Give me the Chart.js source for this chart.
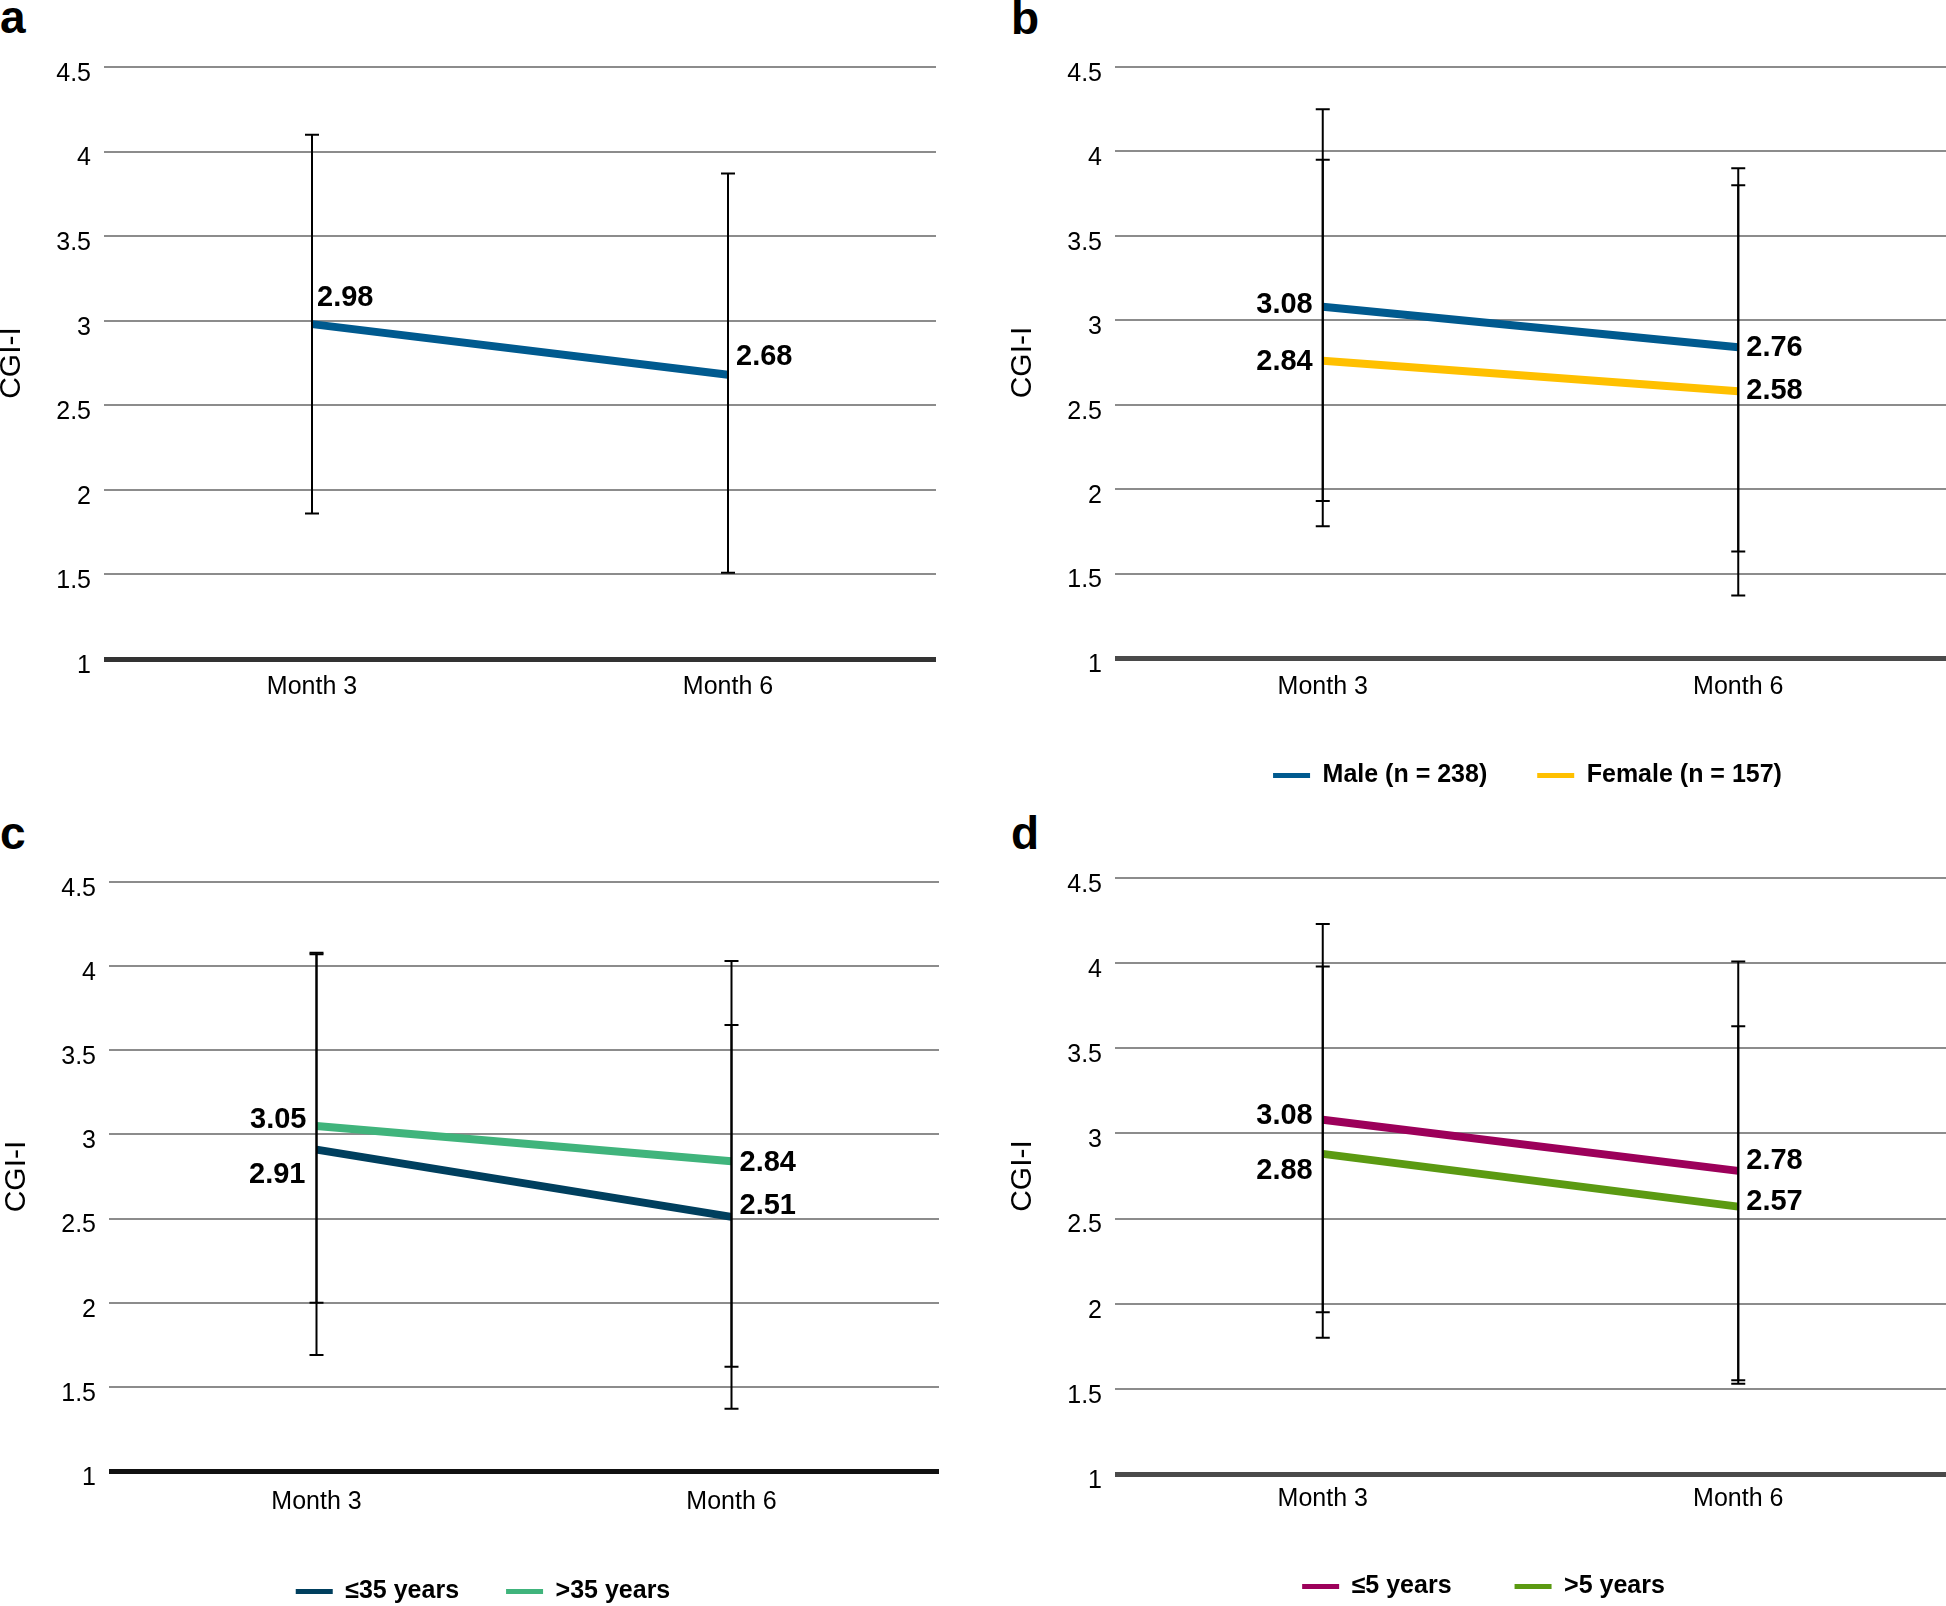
<!DOCTYPE html>
<html>
<head>
<meta charset="utf-8">
<script src="https://cdn.jsdelivr.net/npm/chart.js@4"></script>
<style>
    body { margin: 0; background: #fff; width: 1946px; height: 1606px; position: relative; overflow: hidden; font-family: "Liberation Sans", Arial, sans-serif; }
    .box { position: absolute; }
    .letter { position: absolute; font-weight: bold; font-size: 46px; line-height: 1; color: #000; }
</style>
</head>
<body>
<div class="letter" style="left:0;top:-6px">a</div>
<div class="letter" style="left:1011px;top:-5px">b</div>
<div class="letter" style="left:0;top:810px">c</div>
<div class="letter" style="left:1011px;top:810px">d</div>

<div class="box" style="left:0;top:0;width:936px;height:720px"><canvas id="chartA"></canvas></div>
<div class="box" style="left:1011px;top:0;width:935px;height:800px"><canvas id="chartB"></canvas></div>
<div class="box" style="left:5px;top:800px;width:934px;height:814px"><canvas id="chartC"></canvas></div>
<div class="box" style="left:1011px;top:800px;width:935px;height:809px"><canvas id="chartD"></canvas></div>

<script>
// 橫軸類別
const months = ['Month 3', 'Month 6'];

// a 全體
const allMean = [2.98, 2.68];
const allHigh = [4.10, 3.87];
const allLow = [1.86, 1.51];
const allText = ['2.98', '2.68'];

// b 性別
const maleMean = [3.08, 2.84];
const maleHigh = [4.25, 3.90];
const maleLow = [1.93, 1.63];
const maleText = ['3.08', '2.76'];
const femaleMean = [2.76, 2.58];
const femaleHigh = [3.95, 3.80];
const femaleLow = [1.78, 1.37];
const femaleText = ['2.84', '2.58'];

// c 年齡
const youngMean = [2.91, 2.51];
const youngHigh = [4.08, 3.65];
const youngLow = [1.69, 1.37];
const youngText = ['2.91', '2.51'];
const olderMean = [3.05, 2.84];
const olderHigh = [4.07, 4.03];
const olderLow = [2.00, 1.62];
const olderText = ['3.05', '2.84'];

// d 病程
const shortMean = [3.08, 2.78];
const shortHigh = [4.23, 4.01];
const shortLow = [1.95, 1.55];
const shortText = ['3.08', '2.78'];
const longMean = [2.88, 2.57];
const longHigh = [3.98, 3.63];
const longLow = [1.80, 1.53];
const longText = ['2.88', '2.57'];

Chart.defaults.font.family = '"Liberation Sans", Arial, sans-serif';
Chart.defaults.color = '#000';

// 誤差線
const errorBars = {
    id: 'errorBars',
    afterDatasetsDraw(chart) {
        const ctx = chart.ctx;
        const y = chart.scales.y;
        ctx.save();
        ctx.strokeStyle = '#000';
        ctx.lineWidth = 2;
        chart.data.datasets.forEach((ds, i) => {
            chart.getDatasetMeta(i).data.forEach((pt, j) => {
                const top = y.getPixelForValue(ds.high[j]);
                const bot = y.getPixelForValue(ds.low[j]);
                ctx.beginPath();
                ctx.moveTo(pt.x, top); ctx.lineTo(pt.x, bot);
                ctx.moveTo(pt.x - 7, top); ctx.lineTo(pt.x + 7, top);
                ctx.moveTo(pt.x - 7, bot); ctx.lineTo(pt.x + 7, bot);
                ctx.stroke();
            });
        });
        ctx.restore();
    }
};

// 數值標籤
const valueText = {
    id: 'valueText',
    afterDatasetsDraw(chart) {
        const ctx = chart.ctx;
        ctx.save();
        ctx.font = 'bold 29px "Liberation Sans", Arial, sans-serif';
        ctx.fillStyle = '#000';
        ctx.textBaseline = 'middle';
        chart.data.datasets.forEach((ds, i) => {
            chart.getDatasetMeta(i).data.forEach((pt, j) => {
                const p = ds.pos[j];
                ctx.textAlign = p.align;
                ctx.fillText(ds.text[j], pt.x + p.dx, pt.y + p.dy);
            });
        });
        ctx.restore();
    }
};

// 圖例水平位移
const legendShift = {
    id: 'legendShift',
    afterLayout(chart, args, opts) {
        if (chart.legend && opts && opts.dx) {
            chart.legend.left += opts.dx;
            chart.legend.right += opts.dx;
        }
    }
};

function makeChart(id, opt) {
    return new Chart(document.getElementById(id), {
        type: 'line',
        data: {
            labels: months,
            datasets: opt.series.map(s => ({
                label: s.label,
                data: s.data,
                high: s.high,
                low: s.low,
                text: s.text,
                pos: s.pos,
                borderColor: s.color,
                backgroundColor: s.color,
                borderWidth: 8,
                borderCapStyle: 'butt',
                pointRadius: 0,
                fill: false,
                tension: 0
            }))
        },
        options: {
            responsive: true,
            maintainAspectRatio: false,
            animation: false,
            layout: { padding: { top: opt.top, left: 0, right: 0, bottom: opt.bottom || 0 } },
            plugins: {
                tooltip: { enabled: false },
                legendShift: { dx: opt.legendDx || 0 },
                legend: {
                    display: !!opt.legend,
                    position: 'bottom',
                    labels: {
                        boxWidth: 37,
                        boxHeight: 5,
                        padding: opt.legendGap || 50,
                        font: { size: 25, weight: 'bold' },
                        color: '#000',
                        generateLabels: chart => Chart.defaults.plugins.legend.labels.generateLabels(chart)
                            .map(l => Object.assign(l, { lineWidth: 0 }))
                    }
                }
            },
            scales: {
                x: {
                    offset: true,
                    grid: { display: false, drawTicks: false },
                    border: { display: false },
                    ticks: { padding: opt.xPad, font: { size: 25 }, maxRotation: 0 },
                    afterFit: s => { s.height = opt.xHeight; }
                },
                y: {
                    min: 1,
                    max: 4.5,
                    border: { display: false },
                    ticks: { stepSize: 0.5, padding: 13, labelOffset: 7, font: { size: 25 }, callback: v => String(v) },
                    grid: {
                        drawTicks: false,
                        color: c => c.tick && c.tick.value === 1 ? opt.baseColor : '#8c8c8c',
                        lineWidth: c => c.tick && c.tick.value === 1 ? 5 : 2
                    },
                    title: { display: true, text: 'CGI-I', font: { size: 30, lineHeight: 1 }, padding: { top: -3, bottom: 0 } },
                    afterFit: s => { s.width = 104; }
                }
            }
        },
        plugins: [errorBars, valueText, legendShift]
    });
}

makeChart('chartA', {
    top: 67, xHeight: 61, xPad: 13, baseColor: '#333',
    series: [
        { label: 'All', data: allMean, high: allHigh, low: allLow, text: allText, color: '#005a8f',
          pos: [{ align: 'left', dx: 5, dy: -26 }, { align: 'left', dx: 8, dy: -18 }] }
    ]
});

makeChart('chartB', {
    top: 67, bottom: 2, xHeight: 55, xPad: 14, baseColor: '#4a4a4a', legend: true, legendDx: 49, legendGap: 50,
    series: [
        { label: 'Male (n = 238)', data: maleMean, high: maleHigh, low: maleLow, text: maleText, color: '#005a8f',
          pos: [{ align: 'right', dx: -10, dy: -2 }, { align: 'left', dx: 8, dy: 1 }] },
        { label: 'Female (n = 157)', data: femaleMean, high: femaleHigh, low: femaleLow, text: femaleText, color: '#ffc000',
          pos: [{ align: 'right', dx: -10, dy: 1 }, { align: 'left', dx: 8, dy: 0 }] }
    ]
});

makeChart('chartC', {
    top: 82, xHeight: 61, xPad: 16, baseColor: '#111', legend: true, legendDx: 11, legendGap: 47,
    series: [
        { label: '≤35 years', data: youngMean, high: youngHigh, low: youngLow, text: youngText, color: '#003f5e',
          pos: [{ align: 'right', dx: -11, dy: 25 }, { align: 'left', dx: 8, dy: -11 }] },
        { label: '>35 years', data: olderMean, high: olderHigh, low: olderLow, text: olderText, color: '#40b47c',
          pos: [{ align: 'right', dx: -10, dy: -6 }, { align: 'left', dx: 8, dy: 2 }] }
    ]
});

makeChart('chartD', {
    top: 78, xHeight: 37, xPad: 10, baseColor: '#4a4a4a', legend: true, legendDx: 5, legendGap: 63,
    series: [
        { label: '≤5 years', data: shortMean, high: shortHigh, low: shortLow, text: shortText, color: '#9c005a',
          pos: [{ align: 'right', dx: -10, dy: -4 }, { align: 'left', dx: 8, dy: -10 }] },
        { label: '>5 years', data: longMean, high: longHigh, low: longLow, text: longText, color: '#5b9a12',
          pos: [{ align: 'right', dx: -10, dy: 17 }, { align: 'left', dx: 8, dy: -5 }] }
    ]
});
</script>
</body>
</html>
